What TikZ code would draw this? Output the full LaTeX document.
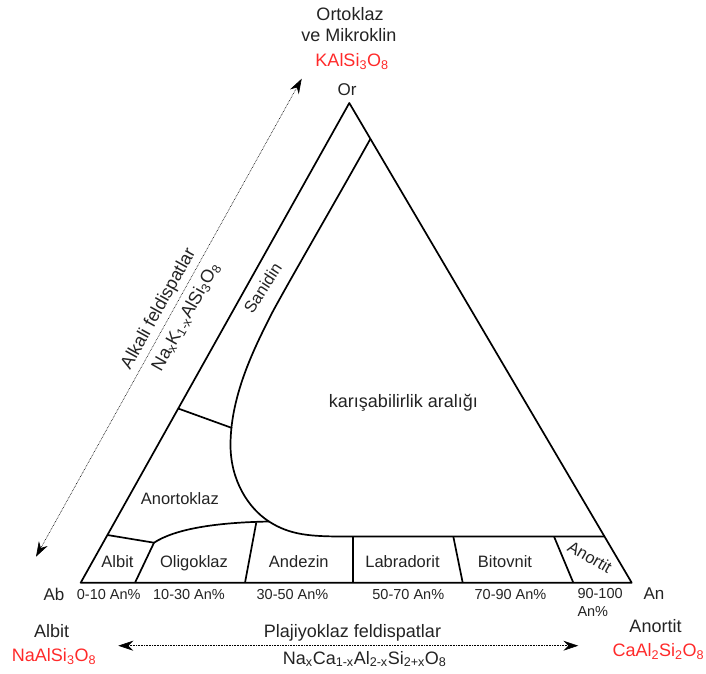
\documentclass[tikz,border=0pt]{standalone}
\usepackage{fontspec}
\setmainfont{Liberation Sans}
\usetikzlibrary{arrows.meta}
\definecolor{fred}{RGB}{255,42,42}
\definecolor{tgray}{RGB}{35,35,35}
\newcommand\fsz[1]{\fontsize{#1}{#1}\selectfont}

\begin{document}
\begin{tikzpicture}[x=1pt,y=-1pt,>={Stealth[length=15pt,width=10pt,inset=5pt]},
    bnd/.style={line width=1.7pt,line join=round},
    dots/.style={<->,line width=0.6pt,dash pattern=on 0.7pt off 0.9pt},
    lbl/.style={font=\fsz{18},text=tgray,inner sep=0pt,anchor=base},
    chem/.style={lbl,text=fred},
    reg/.style={font=\fsz{16.5},text=tgray,inner sep=0pt,anchor=base},
    pct/.style={font=\fsz{14.5},text=tgray,inner sep=0pt,anchor=base}]
  \useasboundingbox (0,0) rectangle (706,673);
  % corners
  \coordinate (Or) at (349.3,103);
  \coordinate (Ab) at (80.7,582.7);
  \coordinate (An) at (631.7,582.7);
  % points on the boundaries
  \coordinate (gt) at (370.3,139);
  \coordinate (J)  at (269,521.5);
  \coordinate (rt) at (604.5,536.5);
  \coordinate (A1) at (154,542.7);
  \coordinate (lt) at (107.4,535);
  \coordinate (k1) at (178.2,408.5);
  \coordinate (k2) at (232,428);

  \draw[bnd] (Ab) -- (Or) -- (An) -- cycle;
  % miscibility gap
  \draw[bnd] (gt) .. controls (342,190) and (288,283) .. (272,313)
    .. controls (257,343) and (230.5,393) .. (230.5,445)
    .. controls (230.5,480) and (248,508) .. (J)
    .. controls (290,535) and (310,536.5) .. (345,536.5) -- (rt);
  \draw[bnd] (k1) -- (k2);
  \draw[bnd] (lt) -- (A1) .. controls (175,529) and (215,522.5) .. (J);
  % plagioclase columns
  \draw[bnd] (A1) -- (135,582.7);
  \draw[bnd] (256.3,522.4) -- (245,582.7);
  \draw[bnd] (353,536.5) -- (353,582.7);
  \draw[bnd] (453.3,536.5) -- (462.7,582.7);
  \draw[bnd] (554,536.5) -- (573.3,582.7);

  % series arrows
  \coordinate (al) at (36,556.7);
  \coordinate (au) at (301.7,78.7);
  \coordinate (pl) at (118.3,645.7);
  \coordinate (pr) at (578.3,645.7);
  \draw[dots] (al) -- (au);
  \draw[dots] (pl) -- (pr);

  % end members
  \node[lbl] (ort) at (350,20.7) {Ortoklaz};
  \node[lbl] (mik) at (349,41.7) {ve Mikroklin};
  \node[chem] (kal) at (352,66.7) {KAlSi\textsubscript{3}O\textsubscript{8}};
  \node[lbl,font=\fsz{17}] (orl) at (347,95) {Or};
  \node[lbl,font=\fsz{17}] (abl) at (54,600) {Ab};
  \node[lbl,font=\fsz{17}] (anl) at (654,599.3) {An};
  \node[lbl] (alb) at (51.7,637.3) {Albit};
  \node[chem] (nal) at (54,661.7) {NaAlSi\textsubscript{3}O\textsubscript{8}};
  \node[lbl] (ano) at (655.5,632.7) {Anortit};
  \node[chem] (cal) at (658.3,656.7) {CaAl\textsubscript{2}Si\textsubscript{2}O\textsubscript{8}};
  \node[lbl] (plt) at (352.5,637.3) {Plajiyoklaz feldispatlar};
  \node[lbl] (plf) at (364.7,664) {Na\textsubscript{x}Ca\textsubscript{1-x}Al\textsubscript{2-x}Si\textsubscript{2+x}O\textsubscript{8}};
  \node[lbl,anchor=center,rotate=60.9] (akt) at (159,309) {Alkali feldispatlar};
  \node[lbl,anchor=center,rotate=60.9] (akf) at (186,317) {Na\textsubscript{x}K\textsubscript{1-x}AlSi\textsubscript{3}O\textsubscript{8}};

  % fields
  \node[lbl] (gap) at (403.5,407.3) {karışabilirlik aralığı};
  \node[reg,anchor=center,rotate=57] (san) at (262.6,288) {Sanidin};
  \node[reg] (ank) at (179.8,504) {Anortoklaz};
  \node[reg] (r1) at (117.5,567.5) {Albit};
  \node[reg] (r2) at (194,567.5) {Oligoklaz};
  \node[reg] (r3) at (298.8,567.5) {Andezin};
  \node[reg] (r4) at (402.5,567.5) {Labradorit};
  \node[reg] (r5) at (505,567.5) {Bitovnit};
  \node[reg,anchor=center,rotate=-30] (r6) at (590,557) {Anortit};

  % composition ranges
  \node[pct] (p1) at (108.7,599.3) {0-10 An\%};
  \node[pct] (p2) at (189,599.3) {10-30 An\%};
  \node[pct] (p3) at (292.5,599.3) {30-50 An\%};
  \node[pct] (p4) at (408.3,599.3) {50-70 An\%};
  \node[pct] (p5) at (510.5,599.3) {70-90 An\%};
  \node[pct,anchor=base west] (p6) at (577.3,598.3) {90-100};
  \node[pct,anchor=base west] (p7) at (577.3,616.7) {An\%};
\end{tikzpicture}
\end{document}
